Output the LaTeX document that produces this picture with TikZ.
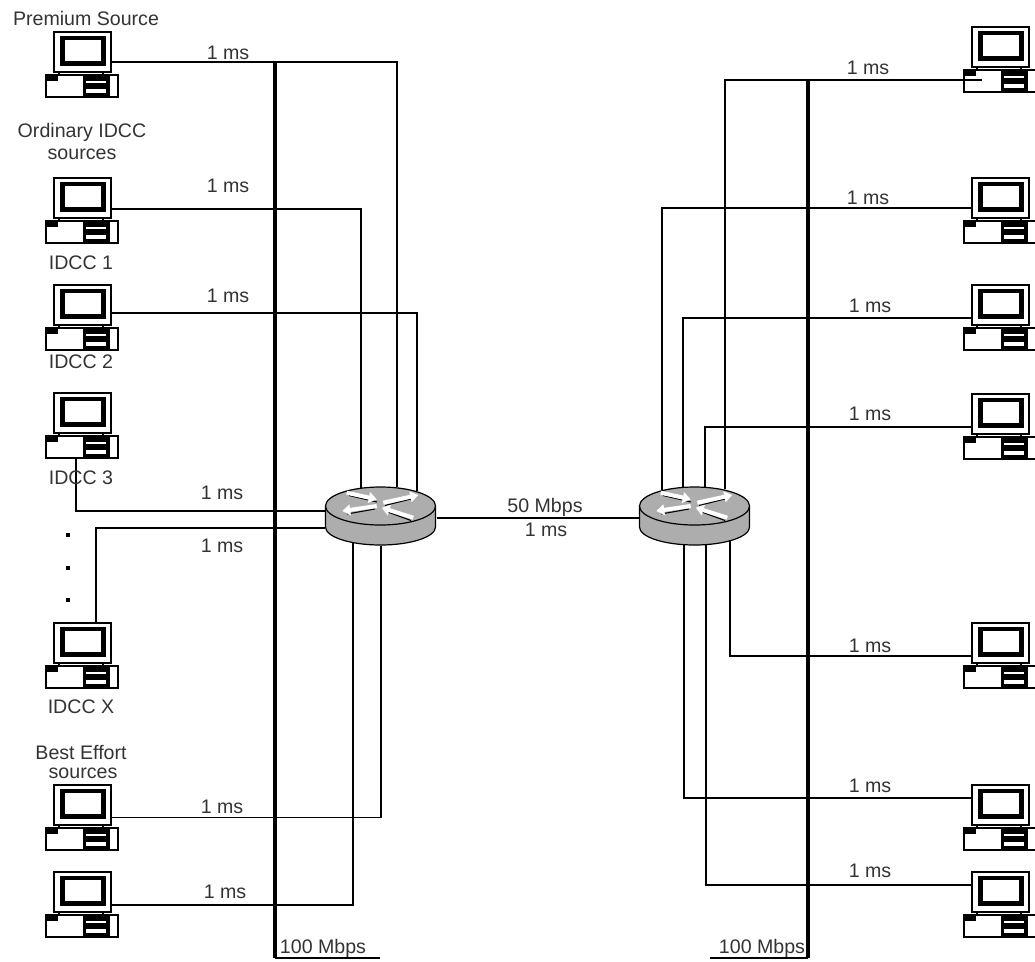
\documentclass[tikz,border=0pt]{standalone}
\usepackage{fontspec}
\setmainfont{Liberation Sans}
\usetikzlibrary{arrows.meta}
\tikzset{
pcbox/.style={inner sep=0pt,outer sep=0pt,minimum width=55.5pt,minimum height=50.25pt},
routerbox/.style={inner sep=0pt,outer sep=0pt,minimum width=84pt,minimum height=45pt},
routerarrow/.style={draw=white,line width=3pt,-{Triangle[width=8pt,length=6pt]}},
routershadow/.style={draw=black,line width=.8pt},
link/.style={draw=black,line width=1.4pt},
heavylink/.style={draw=black,line width=2.2pt},
busline/.style={draw=black,line width=2.8pt},
busfoot/.style={draw=black,line width=1.5pt},
lbl/.style={inner sep=0pt,outer sep=0pt,text=black!80,font=\fontsize{14.7}{16}\selectfont},
dotmark/.style={fill=black,inner sep=0pt,outer sep=0pt,minimum size=3.6pt},
}
\newcommand{\pcnode}[2]{%
\node[pcbox] (#1) at (#2) {};
\begin{scope}[shift={(#1.north west)}]
\path[fill=white,draw=black,line width=1.5pt] (9,1) rectangle (66,41);
\path[fill=white,draw=black,line width=3.7pt] (17.5,7) rectangle (58.5,32.5);
\path[draw=black,line width=1.5pt] (14,41) -- (14,45);
\path[draw=black,line width=1.5pt] (58,41) -- (58,45);
\path[fill=white,draw=black,line width=2pt] (1,44) rectangle (73,66);
\path[fill=black] (1,44) rectangle (13,50);
\path[fill=black] (38,44) rectangle (65,66);
\path[fill=white] (41,50) rectangle (61,52);
\path[fill=white] (41,58) rectangle (61,62);
\end{scope}}
\newcommand{\routernode}[2]{%
\node[routerbox] (#1) at (#2) {};
\begin{scope}[shift={(#1.north west)}]
\path[fill=black!32,draw=black,line width=.9pt] (.5,20) -- (.5,41) arc[start angle=180,end angle=0,x radius=55,y radius=18] -- (110.5,20) -- cycle;
\path[fill=black!32,draw=black,line width=.9pt] (55.5,20) ellipse[x radius=55,y radius=19];
\draw[routershadow] (24,9.5) -- (52,16);
\draw[routershadow] (60,19.5) -- (90,12);
\draw[routershadow] (50,23) -- (22,28);
\draw[routershadow] (86,34.5) -- (60,25);
\draw[routerarrow] (21.7,6.7) -- (51.7,13.3);
\draw[routerarrow] (58.3,16.7) -- (93.3,9);
\draw[routerarrow] (51.7,20) -- (17.3,25);
\draw[routerarrow] (88.3,31.7) -- (56.7,21.7);
\end{scope}}
\begin{document}
\begin{tikzpicture}[x=.75pt,y=-.75pt]
\path[use as bounding box] (0,0) rectangle (1035,961);
% left hosts
\pcnode{premium}{82,64.5}
\pcnode{idcca}{82,210.5}
\pcnode{idccb}{82,317.5}
\pcnode{idccc}{82,425.5}
\pcnode{idccx}{82,655.5}
\pcnode{bea}{82,817.5}
\pcnode{beb}{82,904.5}
% right hosts
\pcnode{sinka}{1000,59.5}
\pcnode{sinkb}{1000,210.5}
\pcnode{sinkc}{1000,317.5}
\pcnode{sinkd}{1000,426.5}
\pcnode{sinke}{1000,655.5}
\pcnode{sinkf}{1000,817.5}
\pcnode{sinkg}{1000,904.5}
% routers
\routernode{rleft}{381,516}
\routernode{rright}{695,516}
% 100 Mbps bars
\coordinate (ltop) at (275,62);
\coordinate (lbot) at (275,958);
\coordinate (lend) at (380,958);
\coordinate (rtop) at (808,80);
\coordinate (rbot) at (808,958);
\coordinate (rend) at (710,958);
\draw[busline] (ltop) -- (lbot);
\draw[busfoot] (lbot) -- (lend);
\draw[busline] (rtop) -- (rbot);
\draw[busfoot] (rbot) -- (rend);
% links, left side
\draw[link] ([shift={(-9,-2.5)}]premium.east) -| ([shift={(16,1)}]rleft.north);
\draw[link] ([shift={(-9,-1.5)}]idcca.east) -| ([shift={(-20,2)}]rleft.north);
\draw[link] ([shift={(-9,-4.5)}]idccb.east) -| ([shift={(36,5)}]rleft.north);
\draw[link] ([shift={(-6,0)}]idccc.south) |- ([shift={(0,-5)}]rleft.west);
\draw[heavylink] ([shift={(14,0)}]idccx.north) |- ([shift={(0,12)}]rleft.west);
\draw[link] ([shift={(-9,0)}]bea.east) -| (rleft.south);
\draw[link] ([shift={(-9,0.5)}]beb.east) -| ([shift={(-28,-3)}]rleft.south);
% middle link
\draw[link] ([shift={(0,2)}]rleft.east) -- ([shift={(0,2)}]rright.west);
% links, right side
\draw[link] ([shift={(19,20.5)}]sinka.west) -| ([shift={(30,3)}]rright.north);
\draw[heavylink] ([shift={(9,-2.5)}]sinkb.west) -| ([shift={(-33,4)}]rright.north);
\draw[link] ([shift={(9,0.5)}]sinkc.west) -| ([shift={(-12,1)}]rright.north);
\draw[link] ([shift={(9,0.5)}]sinkd.west) -| ([shift={(10,1)}]rright.north);
\draw[link] ([shift={(9,0.5)}]sinke.west) -| ([shift={(35,-6)}]rright.south);
\draw[link] ([shift={(9,-19.5)}]sinkf.west) -| ([shift={(-11,-1)}]rright.south);
\draw[link] ([shift={(9,-19.5)}]sinkg.west) -| ([shift={(11,-1)}]rright.south);
% host labels
\node[lbl] (tpremium) at (86,18) {Premium Source};
\node[lbl] (tordinary) at (82,132) {Ordinary IDCC};
\node[lbl] (tsources) at (82,154) {sources};
\node[lbl] (tidcca) at (81,263) {IDCC 1};
\node[lbl] (tidccb) at (81,362) {IDCC 2};
\node[lbl] (tidccc) at (81,478) {IDCC 3};
\node[lbl] (tidccx) at (81,707) {IDCC X};
\node[lbl] (tbest) at (81,752) {Best Effort};
\node[lbl] (tbesrc) at (83,773) {sources};
% delay labels
\node[lbl] (da) at (228,53) {1 ms};
\node[lbl] (db) at (228,186) {1 ms};
\node[lbl] (dc) at (228,296) {1 ms};
\node[lbl] (dd) at (222,493) {1 ms};
\node[lbl] (de) at (222,546) {1 ms};
\node[lbl] (df) at (222,807) {1 ms};
\node[lbl] (dg) at (225,892) {1 ms};
\node[lbl] (dh) at (868,68) {1 ms};
\node[lbl] (di) at (868,198) {1 ms};
\node[lbl] (dj) at (870,306) {1 ms};
\node[lbl] (dk) at (870,414) {1 ms};
\node[lbl] (dl) at (870,646) {1 ms};
\node[lbl] (dm) at (870,786) {1 ms};
\node[lbl] (dn) at (870,871) {1 ms};
\node[lbl] (rate) at (545,507) {50 Mbps};
\node[lbl] (delay) at (546,530) {1 ms};
\node[lbl] (lbar) at (323,948) {100 Mbps};
\node[lbl] (rbar) at (762,948) {100 Mbps};
% dots
\node[dotmark] (dota) at (68,535) {};
\node[dotmark] (dotb) at (68,568) {};
\node[dotmark] (dotc) at (68,600) {};
\end{tikzpicture}
\end{document}
